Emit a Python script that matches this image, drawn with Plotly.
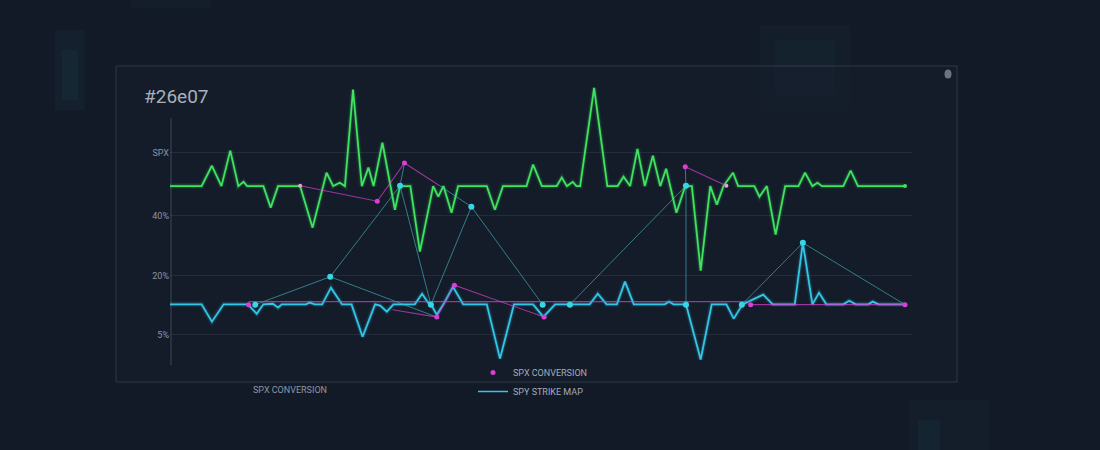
import plotly.graph_objects as go

# ---------------- data ----------------
# main green series (time index 0..100, value on percent-like scale)
green_t = [0, 4.3, 5.7, 7.0, 8.2, 9.3, 10.0, 10.5, 12.7, 13.7, 14.7, 17.7, 19.4, 21.3, 22.2, 23.1,
           23.8, 24.9, 26.1, 27.0, 27.7, 28.9, 30.6, 31.3, 32.7, 34.0, 35.8, 36.5, 37.2, 38.3,
           39.2, 43.1, 44.2, 45.3, 48.5, 49.4, 50.6, 52.6, 53.3, 54.0, 54.8, 55.3, 55.8, 57.7,
           59.5, 60.9, 61.7, 62.6, 63.6, 64.6, 65.7, 66.7, 67.5, 68.9, 70.1, 71.0, 72.2, 73.5,
           74.4, 75.3, 76.6, 77.3, 79.5, 80.2, 81.2, 82.4, 83.7, 85.5, 86.4, 87.4, 88.1, 88.7,
           91.6, 92.6, 93.6, 100]
green_v = [49, 49, 55.7, 49, 60.7, 49, 50.4, 49, 49, 41.9, 49, 49, 35.3, 53.4, 49, 50.1,
           49, 80.8, 49, 55.1, 49, 63.3, 41.2, 49, 49, 27.4, 49, 45.5, 49, 40.2,
           49, 49, 41.2, 49, 49, 56.1, 49, 49, 51.8, 49, 50.4, 49, 49, 81.4,
           49, 49, 52.1, 49, 61.3, 49, 59.0, 49, 54.7, 40.2, 49, 49, 21.1, 49,
           42.9, 49, 53.4, 49, 49, 45.5, 49, 33.0, 49, 49, 53.4, 49, 50.1, 49,
           49, 54.1, 49, 49]

# main cyan series
cyan_t = [0, 4.3, 5.7, 7.3, 10.6, 11.8, 12.7, 14.0, 14.7, 15.2, 18.5, 19.0, 19.7, 20.7, 21.9,
          23.4, 24.7, 26.2, 27.9, 28.6, 29.5, 30.4, 33.3, 34.3, 35.1, 35.5, 36.3, 37.2, 38.5,
          39.9, 43.1, 44.9, 46.8, 49.4, 50.8, 52.4, 57.1, 58.2, 59.4, 60.8, 61.9, 63.1, 67.3,
          67.9, 68.5, 70.2, 72.2, 73.7, 75.7, 76.7, 77.9, 80.7, 82.0, 85.0, 86.1, 87.4, 88.3,
          89.3, 91.6, 92.4, 93.3, 95.0, 95.6, 96.4, 100]
cyan_v = [10, 10, 4.3, 10, 10, 6.9, 10, 10.2, 8.9, 10, 10, 10.6, 10, 10, 15.5,
          10, 10, -0.7, 10, 9.6, 7.6, 10, 10, 13.5, 10.6, 10, 6.6, 10, 15.8,
          10, 10, -7.9, 10, 10, 5.9, 10, 10, 13.5, 10, 10, 17.5, 10, 10,
          10.9, 10, 10, -8.2, 10, 10, 5.3, 10, 13.2, 10, 10, 30.3, 10, 13.8,
          10, 10, 11.2, 10, 10, 10.9, 10, 10]

# SPX CONVERSION overlay (magenta), segments separated by None
conv_t = [17.7, 28.2, 31.9, 36.7, None, 70.1, 75.7, None, 30.3, 36.3, 38.7, 50.9, None, 79.0, 100,
          None, 10.7, 79.0]
conv_v = [49.1, 44.0, 56.6, 49.1, None, 55.4, 49.1, None, 8.2, 5.8, 16.3, 5.8, None, 9.9, 9.9,
          None, 10.9, 10.9]
conv_pts_t = [10.7, 28.2, 31.9, 36.3, 38.7, 50.9, 70.1, 79.0, 100]
conv_pts_v = [9.9, 44.0, 56.6, 5.8, 16.3, 5.8, 55.4, 9.9, 9.9]
conv_soft_t = [17.7, 75.7]
conv_soft_v = [49.1, 49.1]

# SPY STRIKE MAP overlay (teal), segments separated by None
map_t = [11.6, 21.8, 31.3, 35.5, 41.0, 50.7, None, 54.4, 70.2, 70.2, None, 77.8, 86.1, 100,
         None, 21.8, 36.3, None, 36.7, 41.0, None, 31.9, 31.3, None, 70.1, 70.2]
map_v = [9.9, 19.1, 49.1, 9.9, 42.2, 9.9, None, 9.9, 49.1, 9.9, None, 9.9, 30.3, 9.9,
         None, 19.1, 5.8, None, 49.1, 42.2, None, 56.6, 49.1, None, 55.4, 49.1]
map_pts_t = [11.6, 21.8, 31.3, 35.5, 41.0, 50.7, 54.4, 70.2, 70.2, 77.8, 86.1]
map_pts_v = [9.9, 19.1, 49.1, 9.9, 42.2, 9.9, 9.9, 49.1, 9.9, 9.9, 30.3]

tick_vals = [0, 19.5, 39.2, 60]
tick_text = ["5%", "20%", "40%", "SPX"]

# ---------------- styling ----------------
BG = "#131a27"
GREEN = "#3fe35f"
CYAN = "#33c6e6"
MAGENTA = "#d93fd2"
TEAL = "rgba(70,190,200,0.6)"
TXT = "#8b95a3"

fig = go.Figure()

# glow layers
for w, a in [(6, 0.07), (3.5, 0.16)]:
    fig.add_trace(go.Scatter(x=green_t, y=green_v, mode="lines", showlegend=False, hoverinfo="skip",
                             line=dict(color=f"rgba(63,227,95,{a})", width=w)))
    fig.add_trace(go.Scatter(x=cyan_t, y=cyan_v, mode="lines", showlegend=False, hoverinfo="skip",
                             line=dict(color=f"rgba(51,198,230,{a})", width=w)))

fig.add_trace(go.Scatter(x=green_t, y=green_v, mode="lines", showlegend=False,
                         line=dict(color=GREEN, width=1.8)))
fig.add_trace(go.Scatter(x=[green_t[-1]], y=[green_v[-1]], mode="markers", showlegend=False,
                         marker=dict(color=GREEN, size=4)))
fig.add_trace(go.Scatter(x=cyan_t, y=cyan_v, mode="lines", showlegend=False,
                         line=dict(color=CYAN, width=1.8)))

# overlays
fig.add_trace(go.Scatter(x=map_t, y=map_v, mode="lines", showlegend=False,
                         line=dict(color=TEAL, width=1)))
fig.add_trace(go.Scatter(x=conv_t, y=conv_v, mode="lines", showlegend=False,
                         line=dict(color="rgba(217,63,210,0.7)", width=1.1)))
fig.add_trace(go.Scatter(x=conv_pts_t, y=conv_pts_v, mode="markers", name="SPX CONVERSION",
                         marker=dict(color=MAGENTA, size=5)))
fig.add_trace(go.Scatter(x=conv_soft_t, y=conv_soft_v, mode="markers", showlegend=False,
                         marker=dict(color="#e8a0d8", size=4)))
fig.add_trace(go.Scatter(x=map_pts_t, y=map_pts_v, mode="markers", showlegend=False,
                         marker=dict(color="#37d6e6", size=6)))
# legend entry for the strike map line
fig.add_trace(go.Scatter(x=[None], y=[None], mode="lines", name="SPY STRIKE MAP",
                         line=dict(color=CYAN, width=1.5)))

# ---------------- layout ----------------
L, R, T, B = 170, 188, 83, 85
W, H = 1100, 450
pw, ph = W - L - R, H - T - B


def px(x):
    return (x - L) / pw


def py(y):
    return (H - B - y) / ph


shapes = []
# soft background glows
for (x0, y0, x1, y1, a) in [(55, 30, 85, 110, 0.05), (62, 50, 78, 100, 0.06),
                            (760, 25, 850, 110, 0.035), (775, 40, 835, 95, 0.04),
                            (910, 400, 990, 450, 0.04), (918, 420, 940, 450, 0.06),
                            (130, 0, 210, 8, 0.04)]:
    shapes.append(dict(type="rect", xref="paper", yref="paper", x0=px(x0), x1=px(x1), y0=py(y1), y1=py(y0),
                       fillcolor=f"rgba(40,150,150,{a})", line=dict(width=0), layer="below"))
# panel
shapes.append(dict(type="rect", xref="paper", yref="paper", x0=px(116), x1=px(957), y0=py(382), y1=py(66),
                   fillcolor="rgba(22,30,45,0.6)", line=dict(color="rgba(140,160,180,0.22)", width=1),
                   layer="below"))
# y axis line
shapes.append(dict(type="line", xref="paper", yref="paper", x0=px(171), x1=px(171), y0=py(365), y1=py(118),
                   line=dict(color="rgba(140,150,165,0.35)", width=1)))
# small dot top-right
shapes.append(dict(type="circle", xref="paper", yref="paper", x0=px(944.5), x1=px(951.5), y0=py(78.5), y1=py(69.5),
                   fillcolor="#6d7480", line=dict(width=0)))

fig.update_layout(
    width=W, height=H,
    margin=dict(l=L, r=R, t=T, b=B),
    paper_bgcolor=BG, plot_bgcolor="rgba(0,0,0,0)",
    font=dict(family="Roboto, Open Sans, sans-serif", color=TXT, size=9),
    xaxis=dict(range=[0, 100.95], visible=False, fixedrange=True),
    yaxis=dict(range=[-10, 83], tickvals=tick_vals, ticktext=tick_text, showgrid=True,
               gridcolor="rgba(255,255,255,0.07)", zeroline=False, showline=False,
               tickfont=dict(size=9, color=TXT), ticks="", fixedrange=True),
    shapes=shapes,
    showlegend=True,
    legend=dict(x=px(473), y=py(358), xanchor="left", yanchor="top", bgcolor="rgba(0,0,0,0)",
                font=dict(size=9, color="#a3abb6"), itemwidth=30, tracegroupgap=0),
    annotations=[
        dict(text="#26e07", xref="paper", yref="paper", x=px(142), y=py(97), xanchor="left", yanchor="middle",
             showarrow=False, font=dict(size=19, color="#a9b1bb")),
        dict(text="SPX CONVERSION", xref="paper", yref="paper", x=px(251), y=py(390), xanchor="left",
             yanchor="middle", showarrow=False, font=dict(size=9, color="#8d96a3")),
    ],
)

fig.write_html("out.html")
